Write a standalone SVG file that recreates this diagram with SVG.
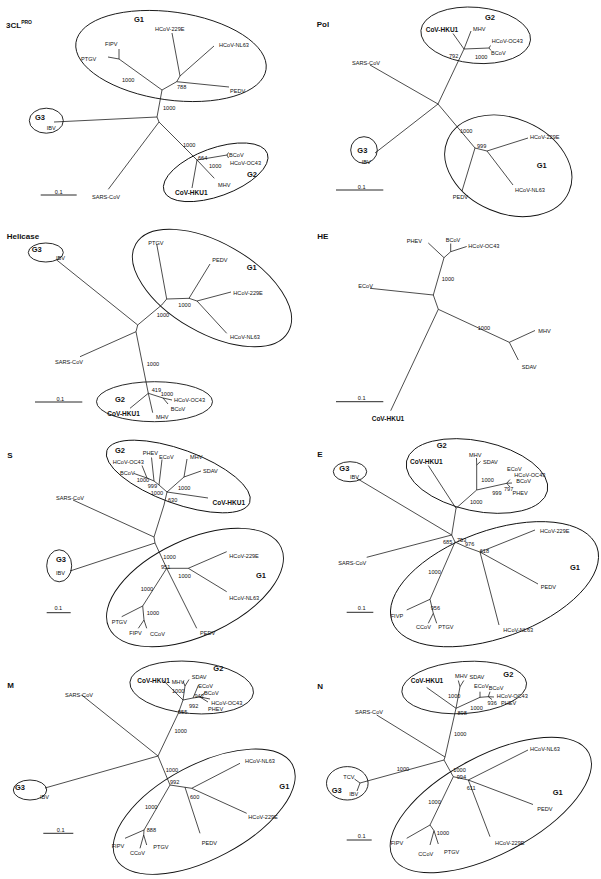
<svg xmlns="http://www.w3.org/2000/svg" width="601" height="879" viewBox="0 0 601 879">
<style>
.b{fill:none;stroke:#111;stroke-width:0.75}
.e{fill:none;stroke:#111;stroke-width:0.9}
.sc{stroke:#111;stroke-width:0.9}
text{font-family:"Liberation Sans",Arial,sans-serif;fill:#111}
.l{font-size:5.6px}
.h{font-size:6.5px;font-weight:bold}
.g{font-size:7.5px;font-weight:bold}
.t{font-size:8px;font-weight:bold}
.s{font-size:5.6px;text-anchor:middle}
</style>
<rect width="601" height="879" fill="#fff"/>

<!-- Panel 1: 3CLpro -->
<g id="p-3clpro">
<text class="t" x="6" y="28">3CL<tspan font-size="5" dy="-4.5">PRO</tspan></text>
<g id="p1-connectors">
<path class="b" d="M119,49L119,59M108,57L119,59L162,90L176.7,81.7L180,76L172,33M180,76L214,46M176.7,81.7L229,87M162,90L157,117L54,122M157,117L159,122L108.3,189.3M159,122L197,160L227,155L228.5,152.5M227,155L228.5,158M197,160L214.3,178.3M197,160L192,188"/>
<line class="sc" x1="40.7" y1="195" x2="76.7" y2="195"/>
</g>
<text class="s" x="58.7" y="193.5">0.1</text>
<g id="p1-G1"><ellipse class="e" cx="171" cy="56" rx="96" ry="44" transform="rotate(8 171 56)"/><text class="g" x="134" y="22">G1</text></g>
<g id="p1-G3"><ellipse class="e" cx="46.3" cy="120.7" rx="17" ry="12.5"/><text class="g" x="35" y="120">G3</text></g>
<g id="p1-G2"><ellipse class="e" cx="215.7" cy="172.3" rx="55" ry="24" transform="rotate(-20 215.7 172.3)"/><text class="g" x="247" y="177.3">G2</text></g>
<g id="p1-labels">
<text class="l" x="105" y="45.5">FIPV</text>
<text class="l" x="81" y="60.5">PTGV</text>
<text class="l" x="155" y="31">HCoV-229E</text>
<text class="l" x="219" y="47">HCoV-NL63</text>
<text class="l" x="230" y="93">PEDV</text>
<text class="l" x="177" y="89">788</text>
<text class="l" x="122" y="81.5">1000</text>
<text class="l" x="163" y="110">1000</text>
<text class="l" x="46.7" y="129.5">IBV</text>
<text class="l" x="183" y="147">1000</text>
<text class="l" x="198" y="160">664</text>
<text class="l" x="229" y="157">BCoV</text>
<text class="l" x="209" y="168">1000</text>
<text class="l" x="230" y="165">HCoV-OC43</text>
<text class="l" x="218" y="187">MHV</text>
<text class="h" x="175" y="195.3">CoV-HKU1</text>
<text class="l" x="92" y="199">SARS-CoV</text>
</g>
</g>

<!-- Panel 2: Pol -->
<g id="p-pol">
<text class="t" x="316.7" y="27.3">Pol</text>
<g id="p2-connectors">
<path class="b" d="M370,65L438,104L464,49L453,33.5M464,49L471,31M464,49L489,48L490.5,45.5M489,48L491,50.5M438,104L375,153M438,104L475,148L462,191M475,148L487,151L528,138M487,151L513,185"/>
<line class="sc" x1="336" y1="190" x2="383.3" y2="190"/>
</g>
<text class="s" x="361.7" y="188.5">0.1</text>
<g id="p2-G2"><ellipse class="e" cx="475.7" cy="35.3" rx="55" ry="28" transform="rotate(5 475.7 35.3)"/><text class="g" x="485" y="19.5">G2</text></g>
<g id="p2-G1"><ellipse class="e" cx="508.3" cy="165.8" rx="66" ry="47.5" transform="rotate(23 508.3 165.8)"/><text class="g" x="536.7" y="168.3">G1</text></g>
<g id="p2-G3"><circle class="e" cx="364" cy="150" r="13.3"/><text class="g" x="357.3" y="152.7">G3</text></g>
<g id="p2-labels">
<text class="h" x="425.7" y="31.6">CoV-HKU1</text>
<text class="l" x="473" y="31">MHV</text>
<text class="l" x="491.7" y="42.7">HCoV-OC43</text>
<text class="l" x="491" y="55">BCoV</text>
<text class="l" x="449" y="58">792</text>
<text class="l" x="475" y="59">1000</text>
<text class="l" x="352" y="64.7">SARS-CoV</text>
<text class="l" x="460" y="132.7">1000</text>
<text class="l" x="477" y="147.7">999</text>
<text class="l" x="530" y="139.3">HCoV-229E</text>
<text class="l" x="515" y="192">HCoV-NL63</text>
<text class="l" x="452.7" y="199.3">PEDV</text>
<text class="l" x="361.7" y="164.3">IBV</text>
</g>
</g>

<!-- Panel 3: Helicase -->
<g id="p-helicase">
<text class="t" x="6.7" y="239">Helicase</text>
<g id="p3-connectors">
<path class="b" d="M156.7,244L166.7,299L189,298.3L210,264M189,298.3L197,301L231,292M197,301L226.7,333.3M166.7,299L161.7,305L137.7,325L56.7,260M137.7,325L136,331.7L80,356.7M136,331.7L148.3,393.3L130,408.3M148.3,393.3L152.7,412.7M148.3,393.3L163,398L172,400M163,398L168,404"/>
<line class="sc" x1="35" y1="402" x2="82.3" y2="402"/>
</g>
<text class="s" x="60.3" y="400.5">0.1</text>
<g id="p3-G3"><ellipse class="e" cx="45.8" cy="252.5" rx="17.5" ry="9.5"/><text class="g" x="31.7" y="251.7">G3</text></g>
<g id="p3-G1"><ellipse class="e" cx="212" cy="288" rx="88" ry="45" transform="rotate(30 212 288)"/><text class="g" x="246.7" y="270">G1</text></g>
<g id="p3-G2"><ellipse class="e" cx="154.5" cy="401.7" rx="58" ry="20"/><text class="g" x="115" y="401.7">G2</text></g>
<g id="p3-labels">
<text class="l" x="56" y="260">IBV</text>
<text class="l" x="148.3" y="244.7">PTGV</text>
<text class="l" x="212.3" y="262">PEDV</text>
<text class="l" x="233.3" y="295.3">HCoV-229E</text>
<text class="l" x="178.3" y="307">1000</text>
<text class="l" x="156.7" y="317">1000</text>
<text class="l" x="230" y="338.7">HCoV-NL63</text>
<text class="l" x="55" y="363.7">SARS-CoV</text>
<text class="l" x="146.7" y="366">1000</text>
<text class="l" x="151.7" y="391.5">419</text>
<text class="l" x="160.7" y="396">1000</text>
<text class="l" x="174" y="402">HCoV-OC43</text>
<text class="l" x="170.7" y="410.7">BCoV</text>
<text class="l" x="156" y="419.3">MHV</text>
<text class="h" x="107.3" y="415.6">CoV-HKU1</text>
</g>
</g>

<!-- Panel 4: HE -->
<g id="p-he">
<text class="t" x="317.3" y="239">HE</text>
<g id="p4-connectors">
<path class="b" d="M428.3,243L444,257.7L450.7,251.7L450.7,243.5M450.7,251.7L466.7,246.5M444,257.7L433.3,295L370,288.3M433.3,295L438.3,309.3L509.3,342.3L535,330.5M509.3,342.3L518.3,360M438.3,309.3L390.7,410.7"/>
<line class="sc" x1="336" y1="401.7" x2="383.3" y2="401.7"/>
</g>
<text class="s" x="361.7" y="400.3">0.1</text>
<g id="p4-labels">
<text class="l" x="406.7" y="242.5">PHEV</text>
<text class="l" x="445.7" y="241.5">BCoV</text>
<text class="l" x="468.3" y="248">HCoV-OC43</text>
<text class="l" x="441.7" y="281.3">1000</text>
<text class="l" x="358.3" y="288">ECoV</text>
<text class="l" x="477.7" y="330.3">1000</text>
<text class="l" x="538.3" y="333">MHV</text>
<text class="l" x="521.7" y="368.7">SDAV</text>
<text class="h" x="371.7" y="421.3">CoV-HKU1</text>
</g>
</g>

<!-- Panel 5: S -->
<g id="p-s">
<text class="t" x="7.3" y="457.7">S</text>
<g id="p5-connectors">
<path class="b" d="M73,500L154,537L155,543L70,571M154,537L164,505L167,492L208,498M167,492L184,477L187,459M184,477L201,471M167,492L159,485L162,459.5M159,485L154,481L151.5,457.5M154,481L147,478L142,465.5M147,478L134,473.5M155,543L166.7,568.3L188.3,568.3L226.7,551.7M188.3,568.3L226.7,591.7M166.7,568.3L196.7,628.3M166.7,568.3L142.7,606L121.7,616.7M142.7,606L144,620L138.3,628.3M144,620L146.7,628.3"/>
<line class="sc" x1="46.7" y1="612.7" x2="70.7" y2="612.7"/>
</g>
<text class="s" x="58.3" y="609.5">0.1</text>
<g id="p5-G2"><ellipse class="e" cx="178.3" cy="476.5" rx="76" ry="27" transform="rotate(20 178.3 476.5)"/><text class="g" x="115" y="453.3">G2</text></g>
<g id="p5-G3"><ellipse class="e" cx="59.2" cy="565.8" rx="12.5" ry="16"/><text class="g" x="56" y="561.7">G3</text></g>
<g id="p5-G1"><ellipse class="e" cx="195" cy="587.5" rx="95" ry="48" transform="rotate(-25 195 587.5)"/><text class="g" x="256" y="578.3">G1</text></g>
<g id="p5-labels">
<text class="l" x="112.7" y="464">HCoV-OC43</text>
<text class="l" x="142.7" y="455.3">PHEV</text>
<text class="l" x="159" y="458.7">ECoV</text>
<text class="l" x="190" y="459.3">MHV</text>
<text class="l" x="203" y="472.5">SDAV</text>
<text class="l" x="120" y="475">BCoV</text>
<text class="l" x="136.7" y="481.5">1000</text>
<text class="l" x="147.7" y="487.5">999</text>
<text class="l" x="150.7" y="495">1000</text>
<text class="l" x="178" y="490">1000</text>
<text class="l" x="168" y="501.5">630</text>
<text class="h" x="212.5" y="505.3">CoV-HKU1</text>
<text class="l" x="56" y="500.3">SARS-CoV</text>
<text class="l" x="56" y="575.3">IBV</text>
<text class="l" x="163.3" y="559.3">1000</text>
<text class="l" x="161" y="568.7">951</text>
<text class="l" x="229.3" y="557.7">HCoV-229E</text>
<text class="l" x="178.3" y="577.7">1000</text>
<text class="l" x="229.3" y="600.3">HCoV-NL63</text>
<text class="l" x="140.7" y="590.7">1000</text>
<text class="l" x="146.7" y="615.3">1000</text>
<text class="l" x="111.7" y="623.7">PTGV</text>
<text class="l" x="129.3" y="634.7">FIPV</text>
<text class="l" x="150" y="636">CCoV</text>
<text class="l" x="200" y="635.3">PEDV</text>
</g>
</g>

<!-- Panel 6: E -->
<g id="p-e">
<text class="t" x="317.3" y="457.3">E</text>
<g id="p6-connectors">
<path class="b" d="M356.7,478.3L451.7,535M366.7,557.3L451.7,535M451.7,535L456,508.3L428.3,465.5M456,508.3L476.7,490L476.7,465L476.5,458M476.7,465L480.5,461.5M476.7,490L506.7,483.3L510,479.5M506.7,483.3L512,483M506.7,483.3L510,487M451.7,535L455,542L466,547L480,552L535,530M480,552L538,584M480,552L499,625M455,542L430,599.3L406.7,610M430,599.3L433.3,613.3L428.3,623.3M433.3,613.3L436.7,623.3"/>
<line class="sc" x1="346.7" y1="612.3" x2="373.3" y2="612.3"/>
</g>
<text class="s" x="361.7" y="610">0.1</text>
<g id="p6-G3"><ellipse class="e" cx="350" cy="471.7" rx="16.7" ry="10"/><text class="g" x="339.3" y="470.7">G3</text></g>
<g id="p6-G2"><ellipse class="e" cx="477" cy="476" rx="72" ry="35" transform="rotate(12 477 476)"/><text class="g" x="436.7" y="448.3">G2</text></g>
<g id="p6-G1"><ellipse class="e" cx="494.5" cy="584.2" rx="109" ry="53.5" transform="rotate(-20 494.5 584.2)"/><text class="g" x="570" y="570">G1</text></g>
<g id="p6-labels">
<text class="l" x="350" y="479.3">IBV</text>
<text class="h" x="410" y="464">CoV-HKU1</text>
<text class="l" x="469" y="456.5">MHV</text>
<text class="l" x="483" y="464">SDAV</text>
<text class="l" x="507" y="471">ECoV</text>
<text class="l" x="514.3" y="476.5">HCoV-OC43</text>
<text class="l" x="516.3" y="483">BCoV</text>
<text class="l" x="512.5" y="494.8">PHEV</text>
<text class="l" x="504" y="490.7">797</text>
<text class="l" x="492.2" y="495">999</text>
<text class="l" x="481.3" y="481.7">1000</text>
<text class="l" x="470" y="504.2">1000</text>
<text class="l" x="338.3" y="565.3">SARS-CoV</text>
<text class="l" x="443" y="543.7">685</text>
<text class="l" x="457" y="541.7">753</text>
<text class="l" x="465" y="546">976</text>
<text class="l" x="479.7" y="553">618</text>
<text class="l" x="540" y="532.7">HCoV-229E</text>
<text class="l" x="540.7" y="588.7">PEDV</text>
<text class="l" x="428.3" y="573.7">1000</text>
<text class="l" x="430.7" y="610.3">956</text>
<text class="l" x="390.7" y="618">FIVP</text>
<text class="l" x="416" y="629.3">CCoV</text>
<text class="l" x="438.3" y="629.3">PTGV</text>
<text class="l" x="503.3" y="632">HCoV-NL63</text>
</g>
</g>

<!-- Panel 7: M -->
<g id="p-m">
<text class="t" x="7.3" y="687.7">M</text>
<g id="p7-connectors">
<path class="b" d="M81.7,695L158,756L178.3,713.3L183,700L163.3,680.5M183,700L185,686L183,681M185,686L189,679.5M183,700L193,698L198.5,685M193,698L200,697L205,692.5M200,697L210,699M200,697L208,702M158,756L45,788M158,756L170,785L191.7,788.3L240,763.3M191.7,788.3L246.7,813.3M185,787.3L200,833.3M170,785L144,830L125,838.3M144,830L143.7,835L140,848.3M143.7,835L146.7,845"/>
<line class="sc" x1="43.3" y1="833.3" x2="73.3" y2="833.3"/>
</g>
<text class="s" x="60.7" y="832">0.1</text>
<g id="p7-G2"><ellipse class="e" cx="191.7" cy="687.5" rx="62" ry="26" transform="rotate(5 191.7 687.5)"/><text class="g" x="213.3" y="670.7">G2</text></g>
<g id="p7-G1"><ellipse class="e" cx="204.2" cy="811.7" rx="100" ry="47" transform="rotate(-28 204.2 811.7)"/><text class="g" x="279.3" y="789.3">G1</text></g>
<g id="p7-G3"><ellipse class="e" cx="30" cy="790" rx="16.7" ry="10"/><text class="g" x="15" y="790">G3</text></g>
<g id="p7-labels">
<text class="h" x="137.3" y="683">CoV-HKU1</text>
<text class="l" x="171.7" y="683.5">MHV</text>
<text class="l" x="191.7" y="679">SDAV</text>
<text class="l" x="198.3" y="688">ECoV</text>
<text class="l" x="204" y="694.5">BCoV</text>
<text class="l" x="172" y="693">1000</text>
<text class="l" x="194.5" y="698.3">942</text>
<text class="l" x="189" y="707.8">992</text>
<text class="l" x="211.2" y="704.8">HCoV-OC43</text>
<text class="l" x="208" y="711.3">PHEV</text>
<text class="l" x="178" y="713.7">555</text>
<text class="l" x="65" y="697">SARS-CoV</text>
<text class="l" x="174.5" y="732.8">1000</text>
<text class="l" x="165.7" y="772">1000</text>
<text class="l" x="170" y="783.7">992</text>
<text class="l" x="245" y="763">HCoV-NL63</text>
<text class="l" x="40" y="798.7">IBV</text>
<text class="l" x="190" y="798.7">600</text>
<text class="l" x="145" y="808.7">1000</text>
<text class="l" x="146.7" y="832">888</text>
<text class="l" x="248.3" y="818.7">HCoV-229E</text>
<text class="l" x="201.7" y="845.3">PEDV</text>
<text class="l" x="111.7" y="847.7">FIPV</text>
<text class="l" x="130" y="855.3">CCoV</text>
<text class="l" x="153.3" y="849.3">PTGV</text>
</g>
</g>

<!-- Panel 8: N -->
<g id="p-n">
<text class="t" x="317.3" y="689.3">N</text>
<g id="p8-connectors">
<path class="b" d="M376.7,715L445,757L456,708.3L426.7,687.5M456,708.3L460,686.7L458.3,680.5M460,686.7L463.8,680.5M456,708.3L480,697.3L480,691.7M480,697.3L488.3,696.7L490,691.7M488.3,696.7L494,697M488.3,696.7L492,699.5M445,757L444,760L360,783L354.5,779M360,783L357,791M444,760L453.3,776.7L468.3,780L528,750M468.3,780L533,804.5M468.3,780L490,836.7M453.3,776.7L430,825L406.7,838.3M430,825L434,830.7L430,845M434,830.7L438.3,844"/>
<line class="sc" x1="346.7" y1="840" x2="371.7" y2="840"/>
</g>
<text class="s" x="361.7" y="838.3">0.1</text>
<g id="p8-G2"><ellipse class="e" cx="464.2" cy="687.5" rx="62.5" ry="26" transform="rotate(-4 464.2 687.5)"/><text class="g" x="503.3" y="677.3">G2</text></g>
<g id="p8-G1"><ellipse class="e" cx="490.8" cy="805" rx="111" ry="49" transform="rotate(-28 490.8 805)"/><text class="g" x="552.7" y="795">G1</text></g>
<g id="p8-G3"><ellipse class="e" cx="347.3" cy="783.3" rx="20.8" ry="16.7"/><text class="g" x="331.7" y="793.3">G3</text></g>
<g id="p8-labels">
<text class="h" x="410.7" y="683">CoV-HKU1</text>
<text class="l" x="455" y="678">MHV</text>
<text class="l" x="469.5" y="679.3">SDAV</text>
<text class="l" x="474" y="687.5">ECoV</text>
<text class="l" x="488.8" y="690.3">BCoV</text>
<text class="l" x="496.7" y="698.2">HCoV-OC43</text>
<text class="l" x="501" y="705.3">PHEV</text>
<text class="l" x="487.5" y="705">936</text>
<text class="l" x="470.3" y="710">1000</text>
<text class="l" x="448" y="698.2">1000</text>
<text class="l" x="457.5" y="715.3">898</text>
<text class="l" x="355" y="713.7">SARS-CoV</text>
<text class="l" x="454" y="735.7">1000</text>
<text class="l" x="530" y="751.3">HCoV-NL63</text>
<text class="l" x="396.7" y="771.3">1000</text>
<text class="l" x="343.3" y="779.3">TCV</text>
<text class="l" x="349.3" y="796.3">IBV</text>
<text class="l" x="453.3" y="772">1000</text>
<text class="l" x="456.7" y="778.7">994</text>
<text class="l" x="466.7" y="790.3">611</text>
<text class="l" x="537.3" y="811.3">PEDV</text>
<text class="l" x="428.3" y="803.7">1000</text>
<text class="l" x="436.7" y="834.7">1000</text>
<text class="l" x="390.7" y="844.7">FIPV</text>
<text class="l" x="418.3" y="856">CCoV</text>
<text class="l" x="444" y="853.7">PTGV</text>
<text class="l" x="495" y="844.7">HCoV-229E</text>
</g>
</g>
</svg>
